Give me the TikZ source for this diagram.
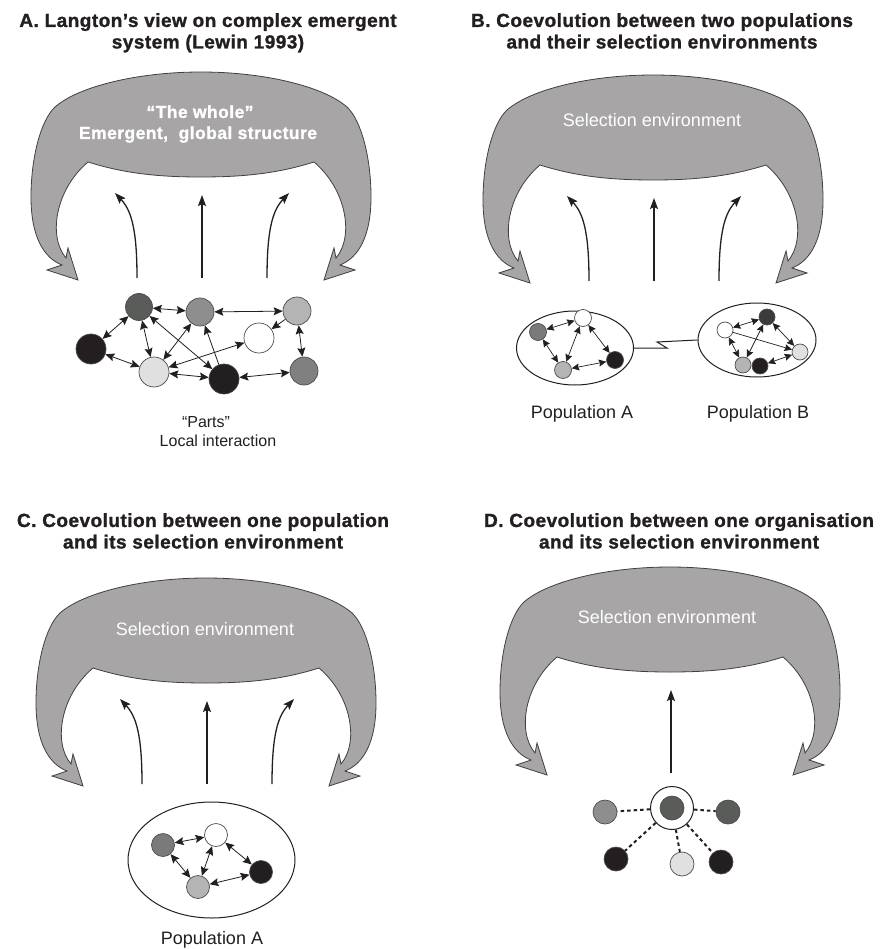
\documentclass[tikz,border=0pt]{standalone}
\usepackage{fontspec}
\setmainfont{Liberation Sans}
\newfontfamily\titlefont[LetterSpace=2.5, BoldFeatures={FakeBold=1.3}]{Liberation Sans}
\usepackage{tikz}
\usetikzlibrary{positioning, arrows.meta, shapes.geometric}

\definecolor{envgray}{RGB}{167,165,165}
\definecolor{inkblack}{RGB}{35,31,32}
\definecolor{agdark}{RGB}{90,92,89}
\definecolor{agmid}{RGB}{142,142,142}
\definecolor{aglight}{RGB}{180,180,180}
\definecolor{agpale}{RGB}{224,224,224}
\definecolor{aggray}{RGB}{128,128,128}
\definecolor{agsmoke}{RGB}{122,122,122}
\definecolor{agcoal}{RGB}{60,58,60}

\tikzset{
  envshape/.style={fill=envgray, draw=black!75, line width=0.8pt},
  rise/.style={-{Stealth[length=11pt,width=8pt,inset=2pt]}, line width=1.3pt, draw=inkblack},
  agent/.style={circle, draw=black!70, line width=0.7pt, inner sep=0pt},
  link/.style={{Stealth[length=9pt,width=8pt,inset=1.5pt]}-{Stealth[length=9pt,width=8pt,inset=1.5pt]}, line width=0.8pt, draw=inkblack},
  onelink/.style={-{Stealth[length=9pt,width=8pt,inset=1.5pt]}, line width=0.8pt, draw=inkblack},
  tinylink/.style={{Stealth[length=7.5pt,width=7pt,inset=1pt]}-{Stealth[length=7.5pt,width=7pt,inset=1pt]}, line width=0.7pt, draw=inkblack},
  tinyone/.style={-{Stealth[length=7.5pt,width=7pt,inset=1pt]}, line width=0.7pt, draw=inkblack},
  tie/.style={dash pattern=on 3.5pt off 3pt, line width=2pt, draw=inkblack},
  popring/.style={ellipse, draw=inkblack, line width=1pt, inner sep=0pt},
  headline/.style={font=\titlefont\bfseries\fontsize{19}{21.5}\selectfont, text=inkblack, align=center, inner sep=0pt},
  envlabel/.style={font=\fontsize{18}{21}\selectfont, text=white, inner sep=0pt},
  envbold/.style={font=\titlefont\bfseries\fontsize{17.5}{21}\selectfont, text=white, inner sep=0pt},
  poplabel/.style={font=\fontsize{18}{21}\selectfont, text=inkblack, inner sep=0pt},
}

% grey feedback shape, #1,#2 = top centre, #3 = prefix of its coordinates
\newcommand{\selenv}[3]{%
  \begin{scope}[shift={(#1,#2)}]
    \filldraw[envshape] (0,0) .. controls (-62,0) and (-122,14) .. (-146,35)
      .. controls (-160,48) and (-170,85) .. (-170,125)
      .. controls (-170,165) and (-157,186) .. (-139,193)
      -- (-154,198) -- (-123,208) -- (-133,176) -- (-135,186)
      .. controls (-153,165) and (-146,118) .. (-113,90)
      .. controls (-75,102) and (-40,105) .. (0,105)
      .. controls (40,105) and (75,102) .. (113,90)
      .. controls (146,118) and (153,165) .. (135,186)
      -- (133,176) -- (123,208) -- (154,198) -- (139,193)
      .. controls (157,186) and (170,165) .. (170,125)
      .. controls (170,85) and (160,48) .. (146,35)
      .. controls (122,14) and (62,0) .. (0,0) -- cycle;
    \coordinate (#3-l0) at (-64,206);
    \coordinate (#3-l1) at (-86,121);
    \coordinate (#3-m0) at (1,206);
    \coordinate (#3-m1) at (1,123);
    \coordinate (#3-r0) at (66,206);
    \coordinate (#3-r1) at (88,121);
  \end{scope}}

\begin{document}
\begin{tikzpicture}[x=1pt, y=-1pt]
\path[fill=white, use as bounding box] (0,0) rectangle (881,949);

% A. Langton
\node[headline, anchor=north] (titleA) at (208,13) {A. Langton’s view on complex emergent\\system (Lewin 1993)};
\selenv{201}{72}{a}
\node[envbold, anchor=base] (wholeA) at (200,118) {“The whole”};
\node[envbold, anchor=base] (globalA) at (198,139) {Emergent,\ \ global structure};
\draw[rise] (a-l0) .. controls +(0,-50) and +(16,17) .. (a-l1);
\draw[rise] (a-m0) -- (a-m1);
\draw[rise] (a-r0) .. controls +(0,-50) and +(-16,17) .. (a-r1);

\node[agent, fill=agdark, minimum size=27pt] (a1) at (139,307) {};
\node[agent, fill=agmid, minimum size=28pt] (a2) at (200,312) {};
\node[agent, fill=aglight, minimum size=28pt] (a3) at (297,311) {};
\node[agent, fill=white, minimum size=30pt] (a4) at (259,338) {};
\node[agent, fill=inkblack, minimum size=30pt] (a5) at (91,349) {};
\node[agent, fill=agpale, minimum size=30pt] (a6) at (154,372) {};
\node[agent, fill=inkblack, minimum size=30pt] (a7) at (224,379) {};
\node[agent, fill=aggray, minimum size=28pt] (a8) at (304,371) {};
\draw[link] (a1) -- (a2);
\draw[link] (a1) -- (a5);
\draw[link] (a1) -- (a6);
\draw[link] (a1) -- (a7);
\draw[link] (a2) -- (a3);
\draw[link] (a2) -- (a6);
\draw[onelink] (a7) -- (a2);
\draw[link] (a5) -- (a6);
\draw[link] (a6) -- (a7);
\draw[link] (a4) -- (a6);
\draw[onelink] (a3) -- (a4);
\draw[link] (a3) -- (a8);
\draw[link] (a7) -- (a8);
\node[poplabel, font=\fontsize{16}{18}\selectfont, anchor=base] (partsA) at (206,427) {“Parts”};
\node[poplabel, font=\fontsize{16}{18}\selectfont, anchor=base] (localA) at (218,446) {Local interaction};

% B. two populations
\node[headline, anchor=north] (titleB) at (662,13) {B. Coevolution between two populations\\and their selection environments};
\selenv{653}{75}{b}
\node[envlabel, anchor=base] (envB) at (652,127) {Selection environment};
\draw[rise] (b-l0) .. controls +(0,-50) and +(16,17) .. (b-l1);
\draw[rise] (b-m0) -- (b-m1);
\draw[rise] (b-r0) .. controls +(0,-50) and +(-16,17) .. (b-r1);

\node[popring, minimum width=117pt, minimum height=74pt] (popBA) at (575,348) {};
\node[popring, minimum width=118pt, minimum height=74pt] (popBB) at (757,340) {};
\draw[line width=1pt, draw=inkblack] (popBA.east) -- ++(33,0) -- ++(-10,-6) -- (popBB.west);

\node[agent, fill=agsmoke, minimum size=17pt] (ba1) at (538,332) {};
\node[agent, fill=white, minimum size=17pt] (ba2) at (583,318) {};
\node[agent, fill=aglight, minimum size=17pt] (ba3) at (563,370) {};
\node[agent, fill=inkblack, minimum size=17pt] (ba4) at (615,360) {};
\draw[tinylink] (ba1) -- (ba2);
\draw[tinylink] (ba1) -- (ba3);
\draw[tinylink] (ba2) -- (ba3);
\draw[tinylink] (ba2) -- (ba4);
\draw[tinylink] (ba3) -- (ba4);

\node[agent, fill=white, minimum size=16pt] (bb1) at (725,330) {};
\node[agent, fill=agcoal, minimum size=16pt] (bb2) at (767,317) {};
\node[agent, fill=agpale, minimum size=16pt] (bb3) at (800,352) {};
\node[agent, fill=aglight, minimum size=16pt] (bb4) at (743,365) {};
\node[agent, fill=inkblack, minimum size=16pt] (bb5) at (760,366) {};
\draw[tinylink] (bb1) -- (bb2);
\draw[tinylink] (bb1) -- (bb4);
\draw[tinyone] (bb1) -- (bb3);
\draw[tinylink] (bb2) -- (bb4);
\draw[tinylink] (bb2) -- (bb3);
\draw[tinylink] (bb5) -- (bb3);

\node[poplabel, anchor=base] (labBA) at (582,418) {Population A};
\node[poplabel, anchor=base] (labBB) at (758,418) {Population B};

% C. one population
\node[headline, anchor=north] (titleC) at (203,513) {C. Coevolution between one population\\and its selection environment};
\selenv{206}{578}{c}
\node[envlabel, anchor=base] (envC) at (205,635) {Selection environment};
\draw[rise] (c-l0) .. controls +(0,-50) and +(16,17) .. (c-l1);
\draw[rise] (c-m0) -- (c-m1);
\draw[rise] (c-r0) .. controls +(0,-50) and +(-16,17) .. (c-r1);

\node[popring, minimum width=167pt, minimum height=116pt] (popC) at (211.5,860) {};
\node[agent, fill=agsmoke, minimum size=23pt] (c1) at (163,845) {};
\node[agent, fill=white, minimum size=23pt] (c2) at (216,835) {};
\node[agent, fill=aglight, minimum size=23pt] (c3) at (198,887) {};
\node[agent, fill=inkblack, minimum size=23pt] (c4) at (261,872) {};
\draw[link] (c1) -- (c2);
\draw[link] (c1) -- (c3);
\draw[link] (c2) -- (c3);
\draw[link] (c2) -- (c4);
\draw[link] (c3) -- (c4);
\node[poplabel, anchor=base] (labC) at (212,944) {Population A};

% D. one organisation
\node[headline, anchor=north] (titleD) at (679,513) {D. Coevolution between one organisation\\and its selection environment};
\selenv{670}{567}{d}
\node[envlabel, anchor=base] (envD) at (667,623) {Selection environment};
\draw[rise] (d-m0) -- (d-m1);

\node[circle, draw=inkblack, line width=1pt, fill=white, minimum size=43pt, inner sep=0pt] (dhub) at (672,808) {};
\node[agent, fill=agdark, minimum size=24pt] (dcore) at (dhub) {};
\node[agent, fill=agmid, minimum size=24pt] (d1) at (605,812) {};
\node[agent, fill=agdark, minimum size=24pt] (d2) at (728,812) {};
\node[agent, fill=inkblack, minimum size=24pt] (d3) at (616,859) {};
\node[agent, fill=agpale, minimum size=24pt] (d4) at (682,864) {};
\node[agent, fill=inkblack, minimum size=24pt] (d5) at (721,862) {};
\draw[tie] (dhub) -- (d1);
\draw[tie] (dhub) -- (d2);
\draw[tie] (dhub) -- (d3);
\draw[tie] (dhub) -- (d4);
\draw[tie] (dhub) -- (d5);
\end{tikzpicture}
\end{document}
